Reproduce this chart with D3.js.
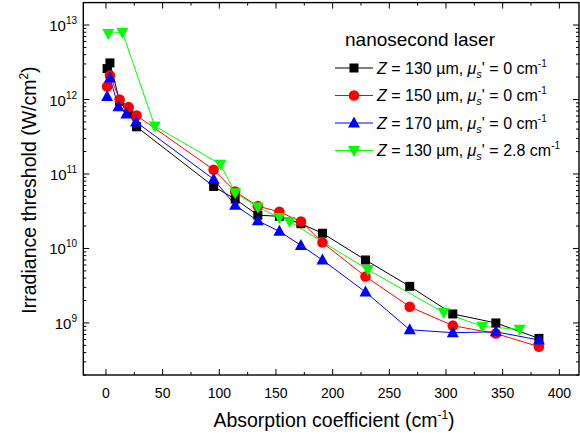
<!DOCTYPE html>
<html>
<head>
<meta charset="utf-8">
<script src="https://cdn.jsdelivr.net/npm/d3@7"></script>
<style>
  body { margin: 0; background: #fff; }
  svg { font-family: Arial, "Liberation Sans", sans-serif; }
</style>
</head>
<body>
<svg id="chart" width="580" height="440"></svg>
<script>
// absorption coefficient (cm^-1) and irradiance threshold (W/cm^2)
let xBlack = [1, 3.5, 12, 20, 27, 95, 114, 134, 153, 172, 191, 229, 268, 306, 344, 382];
let yBlack = [2.6e12, 3.1e12, 9.5e11, 6.5e11, 4.3e11, 6.8e10, 4.6e10, 2.8e10, 2.7e10, 2.15e10, 1.6e10, 7.0e9, 3.1e9, 1.32e9, 1.0e9, 6.2e8];

let xRed = [1, 3.5, 12, 20, 27, 95, 114, 134, 153, 172, 191, 229, 268, 306, 344, 382];
let yRed = [1.5e12, 2.1e12, 1.0e12, 7.9e11, 6.1e11, 1.14e11, 5.8e10, 3.7e10, 3.1e10, 2.3e10, 1.2e10, 4.2e9, 1.65e9, 9.2e8, 7.2e8, 4.8e8];

let xBlue = [1, 3.5, 11, 18, 26.5, 95, 114, 134, 153, 172, 191, 229, 268, 306, 344, 382];
let yBlue = [1.1e12, 1.95e12, 8.0e11, 6.4e11, 5.0e11, 8.5e10, 3.8e10, 2.35e10, 1.7e10, 1.1e10, 7.0e9, 2.6e9, 8.1e8, 7.4e8, 7.6e8, 5.9e8];

let xGreen = [2, 14.5, 43, 101, 114, 134, 153, 162, 231, 298, 332, 365];
let yGreen = [7.7e12, 8.0e12, 4.4e11, 1.35e11, 5.6e10, 3.6e10, 2.6e10, 2.3e10, 5.2e9, 1.38e9, 9.0e8, 8.2e8];

let seriesNames = ["130", "150", "170", "130"];
let seriesMus = ["0", "0", "0", "2.8"];
let seriesColors = ["#000000", "#ff0000", "#0000ff", "#00ff00"];
let seriesShapes = ["square", "circle", "triangle", "down"];

let xTicks = [0, 50, 100, 150, 200, 250, 300, 350, 400];
let yTicks = [1e9, 1e10, 1e11, 1e12, 1e13];

let series = [
  { x: xBlack, y: yBlack },
  { x: xRed, y: yRed },
  { x: xBlue, y: yBlue },
  { x: xGreen, y: yGreen }
].map((s, i) => ({
  pts: s.x.map((v, j) => ({ x: v, y: s.y[j] })),
  color: seriesColors[i],
  shape: seriesShapes[i],
  z: seriesNames[i],
  mu: seriesMus[i]
}));

let svg = d3.select("svg#chart");

let xScale = d3.scaleLinear().domain([-20, 420]).range([83.3, 582]);
let yScale = d3.scaleLog().domain([2e8, 2e13]).range([375, 2.6]);

let pLeft = 83.3, pRight = 579, pTop = 2.6, pBottom = 375;

// minor log ticks
let minorY = [];
for (let e = 8; e <= 13; e++) {
  for (let m = 2; m <= 9; m++) {
    let v = m * Math.pow(10, e);
    if (v >= 2e8 && v <= 2e13) minorY.push(v);
  }
}
let minorX = xTicks.map(d => d - 25).concat([425]).filter(d => d > -20 && d < 420);

let axes = svg.append("g").attr("stroke", "#000").attr("stroke-width", 1);

// y ticks (left and right, pointing in)
axes.selectAll("line.ymaj").data(yTicks).enter().append("line")
  .attr("x1", pLeft).attr("x2", pLeft + 6)
  .attr("y1", d => yScale(d)).attr("y2", d => yScale(d));
axes.selectAll("line.ymin").data(minorY).enter().append("line")
  .attr("x1", pLeft).attr("x2", pLeft + 3)
  .attr("y1", d => yScale(d)).attr("y2", d => yScale(d));
axes.selectAll("line.ymajr").data(yTicks).enter().append("line")
  .attr("x1", pRight).attr("x2", pRight - 6)
  .attr("y1", d => yScale(d)).attr("y2", d => yScale(d));
axes.selectAll("line.yminr").data(minorY).enter().append("line")
  .attr("x1", pRight).attr("x2", pRight - 3)
  .attr("y1", d => yScale(d)).attr("y2", d => yScale(d));

// x ticks (bottom and top, pointing in)
axes.selectAll("line.xmaj").data(xTicks).enter().append("line")
  .attr("x1", d => xScale(d)).attr("x2", d => xScale(d))
  .attr("y1", pBottom).attr("y2", pBottom - 6);
axes.selectAll("line.xmin").data(minorX).enter().append("line")
  .attr("x1", d => xScale(d)).attr("x2", d => xScale(d))
  .attr("y1", pBottom).attr("y2", pBottom - 3);
axes.selectAll("line.xmajt").data(xTicks).enter().append("line")
  .attr("x1", d => xScale(d)).attr("x2", d => xScale(d))
  .attr("y1", pTop).attr("y2", pTop + 6);
axes.selectAll("line.xmint").data(minorX).enter().append("line")
  .attr("x1", d => xScale(d)).attr("x2", d => xScale(d))
  .attr("y1", pTop).attr("y2", pTop + 3);

// frame
svg.append("rect")
  .attr("x", pLeft).attr("y", pTop)
  .attr("width", pRight - pLeft).attr("height", pBottom - pTop)
  .attr("fill", "none").attr("stroke", "#000").attr("stroke-width", 1.4);

// tick labels
svg.selectAll("text.xt").data(xTicks).enter().append("text")
  .attr("x", d => xScale(d)).attr("y", 398)
  .attr("text-anchor", "middle").attr("font-size", 14)
  .text(d => d);

let yt = svg.selectAll("text.yt").data(yTicks).enter().append("text")
  .attr("x", 77).attr("y", d => yScale(d) + 6)
  .attr("text-anchor", "end").attr("font-size", 15);
yt.append("tspan").text("10");
yt.append("tspan").attr("dy", -7).attr("font-size", 10).text(d => Math.round(Math.log10(d)));

// axis titles
let xt = svg.append("text").attr("x", 334).attr("y", 427)
  .attr("text-anchor", "middle").attr("font-size", 19.5);
xt.append("tspan").text("Absorption coefficient (cm");
xt.append("tspan").attr("dy", -8).attr("font-size", 12).text("-1");
xt.append("tspan").attr("dy", 8).text(")");

let ytl = svg.append("text")
  .attr("transform", "translate(36,190) rotate(-90)")
  .attr("text-anchor", "middle").attr("font-size", 19.5);
ytl.append("tspan").text("Irradiance threshold (W/cm");
ytl.append("tspan").attr("dy", -8).attr("font-size", 12).text("2");
ytl.append("tspan").attr("dy", 8).text(")");

// marker drawing
function drawMarker(g, shape, color) {
  if (shape === "square") {
    g.append("rect").attr("x", -4.5).attr("y", -4.5).attr("width", 9).attr("height", 9).attr("fill", color);
  } else if (shape === "circle") {
    g.append("circle").attr("r", 5.3).attr("fill", color);
  } else if (shape === "triangle") {
    g.append("path").attr("d", "M0,-6.5L6,4.5L-6,4.5Z").attr("fill", color);
  } else {
    g.append("path").attr("d", "M0,6.5L6,-4.5L-6,-4.5Z").attr("fill", color);
  }
}

let line = d3.line().x(d => xScale(d.x)).y(d => yScale(d.y));

let plot = svg.append("g");
series.forEach(s => {
  plot.append("path").datum(s.pts)
    .attr("d", line).attr("fill", "none")
    .attr("stroke", s.color).attr("stroke-width", 1);
});
series.forEach(s => {
  plot.selectAll(null).data(s.pts).enter().append("g")
    .attr("transform", d => `translate(${xScale(d.x)},${yScale(d.y)})`)
    .each(function() { drawMarker(d3.select(this), s.shape, s.color); });
});

// legend
let legend = svg.append("g");
legend.append("text").attr("x", 345).attr("y", 46).attr("font-size", 19).text("nanosecond laser");
series.forEach((s, i) => {
  let y = 68 + i * 27.5;
  legend.append("line").attr("x1", 335).attr("x2", 373).attr("y1", y).attr("y2", y)
    .attr("stroke", s.color).attr("stroke-width", 1);
  let g = legend.append("g").attr("transform", `translate(354,${y})`);
  drawMarker(g, s.shape, s.color);
  let t = legend.append("text").attr("x", 377).attr("y", y + 5.5).attr("font-size", 16);
  t.append("tspan").attr("font-style", "italic").text("Z");
  t.append("tspan").text(` = ${s.z} \u00b5m, `);
  t.append("tspan").attr("font-style", "italic").text("\u03bc");
  t.append("tspan").attr("font-style", "italic").attr("font-size", 11).attr("dy", 4).text("s");
  t.append("tspan").attr("dy", -4).text(`' = ${s.mu} cm`);
  t.append("tspan").attr("font-size", 10).attr("dy", -7).text("-1");
});
</script>
</body>
</html>
